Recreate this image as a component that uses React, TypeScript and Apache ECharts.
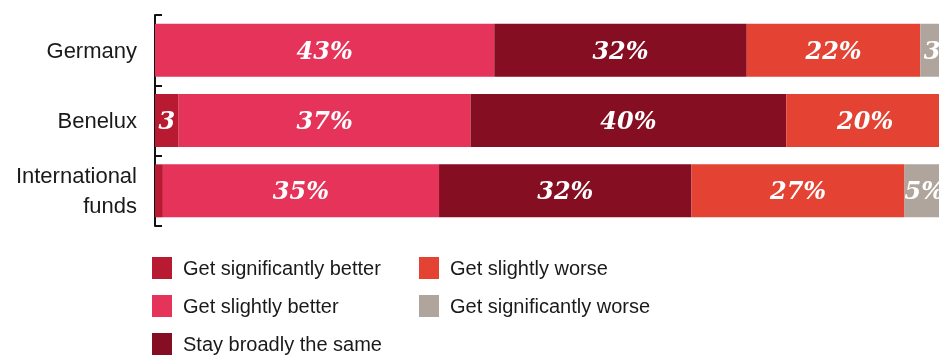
import React, { useEffect, useRef } from "react";
import * as echarts from "echarts";

const categories = ["Germany", "Benelux", "International\nfunds"];
const seriesNames = [
  "Get significantly better",
  "Get slightly better",
  "Stay broadly the same",
  "Get slightly worse",
  "Get significantly worse",
];
const sigBetter = [0, 3, 1];
const slightlyBetter = [43, 37, 35];
const broadlySame = [32, 40, 32];
const slightlyWorse = [22, 20, 27];
const sigWorse = [3, 0, 5];
const seriesValues = [sigBetter, slightlyBetter, broadlySame, slightlyWorse, sigWorse];
const colors = ["#B81A32", "#E5335A", "#850E22", "#E44334", "#AFA59C"];

export default function App() {
  const ref = useRef<HTMLDivElement>(null);
  useEffect(() => {
    if (!ref.current) return;
    document.documentElement.style.overflow = "hidden";
    document.body.style.overflow = "hidden";
    document.body.style.margin = "0";
    const chart = echarts.init(ref.current, null, { renderer: "svg" });
    const labelFmt = (p: any) => {
      const v = p.value as number;
      if (v < 2) return "";
      if (v <= 3) return String(v);
      return v + "%";
    };
    chart.setOption({
      animation: false,
      grid: { left: 155, right: 0, top: 15, bottom: 130, containLabel: false },
      xAxis: { type: "value", min: 0, max: 100, show: false },
      yAxis: {
        type: "category",
        inverse: true,
        data: categories,
        axisLine: { show: true, lineStyle: { color: "#111", width: 2 } },
        axisTick: { show: true, inside: true, length: 7, lineStyle: { color: "#111", width: 2 } },
        axisLabel: {
          margin: 18,
          fontSize: 22,
          lineHeight: 30,
          fontFamily: "Liberation Sans",
          color: "#1a1a1a",
          align: "right",
          padding: [4, 0, 0, 0],
        },
      },
      legend: [
        {
          data: seriesNames.slice(0, 3),
          orient: "vertical",
          left: 152,
          top: 257,
          padding: 0,
          icon: "rect",
          itemWidth: 20,
          itemHeight: 22,
          itemGap: 16,
          selectedMode: false,
          textStyle: { fontSize: 20, fontFamily: "Liberation Sans", color: "#1a1a1a", padding: [0, 0, 0, 6] },
        },
        {
          data: seriesNames.slice(3),
          orient: "vertical",
          left: 419,
          top: 257,
          padding: 0,
          icon: "rect",
          itemWidth: 20,
          itemHeight: 22,
          itemGap: 16,
          selectedMode: false,
          textStyle: { fontSize: 20, fontFamily: "Liberation Sans", color: "#1a1a1a", padding: [0, 0, 0, 6] },
        },
      ],
      series: seriesNames.map((name, i) => ({
        name,
        type: "bar",
        stack: "total",
        barWidth: 53,
        data: seriesValues[i],
        itemStyle: { color: colors[i] },
        label: {
          show: true,
          position: "inside",
          formatter: labelFmt,
          color: "#fff",
          fontFamily: "DejaVu Serif",
          fontWeight: "bold",
          fontStyle: "italic",
          fontSize: 24,
        },
      })),
    });
    return () => chart.dispose();
  }, []);
  return (
    <div
      ref={ref}
      style={{ position: "fixed", left: 0, top: 0, width: 944, height: 356 }}
    />
  );
}
